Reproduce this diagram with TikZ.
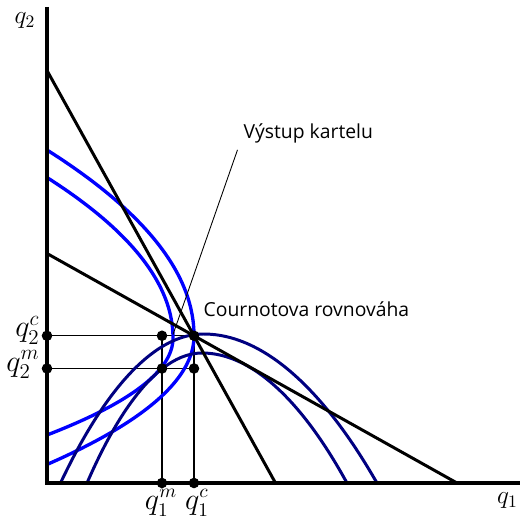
\documentclass[tikz,border=0pt]{standalone}
\usepackage{amsmath}
\usepackage{fontspec}
\setsansfont{Open Sans}
\usepackage{xcolor}
\usepackage{tikz}
\usetikzlibrary{positioning}

\definecolor{isoblue}{RGB}{0,0,255}
\definecolor{isonavy}{RGB}{0,0,128}

\begin{document}
\begin{tikzpicture}[
    axisline/.style={line width=2.3pt},
    reaction/.style={line width=1.7pt},
    guide/.style={line width=0.6pt},
    leader/.style={line width=0.5pt},
    firmone/.style={isonavy, line width=1.7pt},
    firmtwo/.style={isoblue, line width=1.9pt},
    dot/.style={circle, fill=black, inner sep=0pt, minimum size=6pt},
    qlabel/.style={font=\Large, inner sep=0pt},
    qtwolabel/.style={font=\fontsize{18}{21}\selectfont, inner sep=0pt},
    qonelabel/.style={font=\fontsize{16}{19}\selectfont, inner sep=0pt},
    txtlabel/.style={font=\sffamily\fontsize{11}{13}\selectfont}
  ]
  \useasboundingbox (-0.94,-0.70) rectangle (9.48,9.66);

  % Key points
  \coordinate (O) at (0,0);
  \coordinate (Q2top) at (0,9.52);
  \coordinate (Q1end) at (9.46,0);
  \coordinate (C) at (2.94,2.945);   % Cournot
  \coordinate (M) at (2.3,2.29);     % cartel
  \coordinate (Cq2) at (0,2.945);
  \coordinate (Mq2) at (0,2.29);
  \coordinate (Mq1) at (2.3,0);
  \coordinate (Cq1) at (2.94,0);
  \coordinate (MC) at (2.3,2.945);
  \coordinate (CM) at (2.94,2.29);
  \coordinate (K) at (2.52,2.97);

  % Guide lines
  \draw[guide] (Cq2) -- (C) (Mq2) -- (CM) (MC) -- (Mq1) (C) -- (Cq1);

  % Isoprofit curves, firm 2
  \foreach \xv/\yv/\lo/\hi in {2.94/2.945/0.37/6.66, 2.52/2.9/0.96/6.11} {
    \draw[firmtwo] plot[domain=\lo:\hi, samples=150, variable=\t]
      ({\xv*(1-((\t-\yv)/((\t<\yv) ? (\yv-\lo) : (\hi-\yv)))^2)}, \t);
  }
  % Isoprofit curves, firm 1
  \draw[firmone] (0.27,0) parabola bend (3.13,2.98) (6.6,0);
  \draw[firmone] (0.8,0) parabola bend (3.1,2.6) (6.0,0);

  % Reaction functions
  \draw[reaction] (0,8.25) -- (4.57,0);
  \draw[reaction] (0,4.59) -- (8.2,0);

  % Axes
  \draw[axisline] (Q2top) -- (O) -- (Q1end);
  \node[qlabel] (q2lab) at (-0.44,9.24) {$q_2$};
  \node[qlabel] (q1lab) at (9.21,-0.36) {$q_1$};

  % Points
  \foreach \p in {C, M, Cq2, Mq2, Mq1, Cq1, MC, CM}
    \node[dot] (dot\p) at (\p) {};

  \node[qtwolabel, anchor=base east] (q2clab) at (-0.14,2.93) {$q_2^c$};
  \node[qtwolabel, anchor=base east] (q2mlab) at (-0.14,2.24) {$q_2^m$};
  \node[qonelabel, anchor=base] (q1mlab) at (2.28,-0.52) {$q_1^m$};
  \node[qonelabel, anchor=base] (q1clab) at (3.0,-0.52) {$q_1^c$};

  % Annotations
  \node[txtlabel, anchor=base west] (kartel) at (3.81,6.88) {Výstup kartelu};
  \node[txtlabel, anchor=base west] (cournot) at (3.01,3.32) {Cournotova rovnováha};
  \draw[leader] (kartel.south west) -- (K);
\end{tikzpicture}
\end{document}
